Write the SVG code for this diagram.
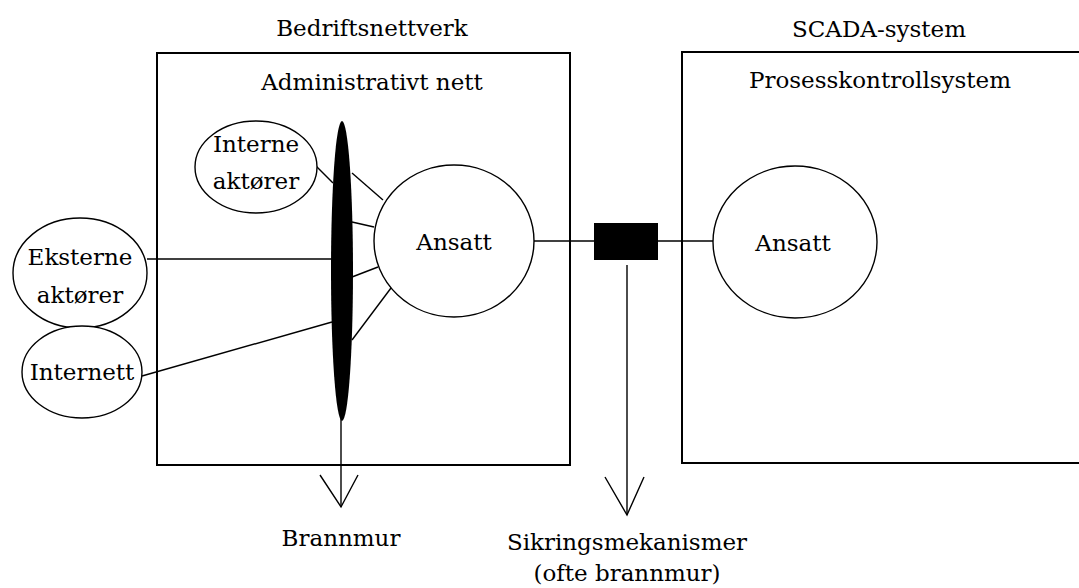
<svg xmlns="http://www.w3.org/2000/svg" width="1079" height="588" viewBox="0 0 1079 588">
  <style>
    .lbl { font-family: "DejaVu Serif", serif; font-size: 23px; fill: #000; text-anchor: middle; }
    .box { fill: none; stroke: #000; stroke-width: 2; }
    .node { fill: #fff; stroke: #000; stroke-width: 1.4; }
    .wire { fill: none; stroke: #000; stroke-width: 1.4; }
  </style>
  <rect width="1079" height="588" fill="#fff"/>

  <!-- Enterprise network boundary -->
  <g id="bedriftsnettverk">
    <text class="lbl" x="372" y="36">Bedriftsnettverk</text>
    <rect class="box" x="157" y="53" width="413" height="412"/>
    <text class="lbl" x="372" y="90">Administrativt nett</text>
  </g>

  <!-- SCADA boundary -->
  <g id="scada-system">
    <text class="lbl" x="879" y="37">SCADA-system</text>
    <rect class="box" x="682" y="52" width="410" height="411"/>
    <text class="lbl" x="880" y="88">Prosesskontrollsystem</text>
  </g>

  <!-- Connectors -->
  <g id="connectors">
    <line class="wire" x1="147" y1="259" x2="332" y2="259"/>
    <line class="wire" x1="142" y1="376" x2="332" y2="322"/>
    <line class="wire" x1="316" y1="166" x2="333" y2="183"/>
    <line class="wire" x1="352" y1="173" x2="383" y2="200"/>
    <line class="wire" x1="352" y1="222" x2="374" y2="227"/>
    <line class="wire" x1="352" y1="277" x2="378" y2="267"/>
    <line class="wire" x1="352" y1="340" x2="391" y2="288"/>
    <line class="wire" x1="534" y1="241" x2="594" y2="241"/>
    <line class="wire" x1="658" y1="241" x2="713" y2="241"/>
    <!-- firewall pointer -->
    <line class="wire" x1="341" y1="410" x2="341" y2="507"/>
    <polyline class="wire" points="320,475 341,507 358,475"/>
    <!-- safeguard pointer -->
    <line class="wire" x1="627" y1="265" x2="627" y2="515"/>
    <polyline class="wire" points="605,477 627,515 644,477"/>
  </g>

  <g id="interne-aktorer">
    <ellipse class="node" cx="256" cy="167" rx="61" ry="46"/>
    <text class="lbl" x="256" y="152">Interne</text>
    <text class="lbl" x="256" y="189">aktører</text>
  </g>

  <g id="eksterne-aktorer">
    <ellipse class="node" cx="80" cy="273" rx="67" ry="55"/>
    <text class="lbl" x="80" y="265">Eksterne</text>
    <text class="lbl" x="80" y="303">aktører</text>
  </g>

  <g id="internett">
    <ellipse class="node" cx="82" cy="372" rx="60" ry="46"/>
    <text class="lbl" x="82" y="380">Internett</text>
  </g>

  <g id="brannmur">
    <ellipse cx="342" cy="271" rx="11" ry="150" fill="#000"/>
  </g>

  <g id="ansatt-admin">
    <ellipse class="node" cx="454" cy="241" rx="80" ry="76"/>
    <text class="lbl" x="454" y="250">Ansatt</text>
  </g>

  <g id="sikringsmekanisme">
    <rect x="594" y="223" width="64" height="37" fill="#000"/>
  </g>

  <g id="ansatt-scada">
    <ellipse class="node" cx="795" cy="242" rx="82" ry="76"/>
    <text class="lbl" x="793" y="251">Ansatt</text>
  </g>

  <g id="labels">
    <text class="lbl" x="341" y="546">Brannmur</text>
    <text class="lbl" x="627" y="550">Sikringsmekanismer</text>
    <text class="lbl" x="627" y="581">(ofte brannmur)</text>
  </g>
</svg>
